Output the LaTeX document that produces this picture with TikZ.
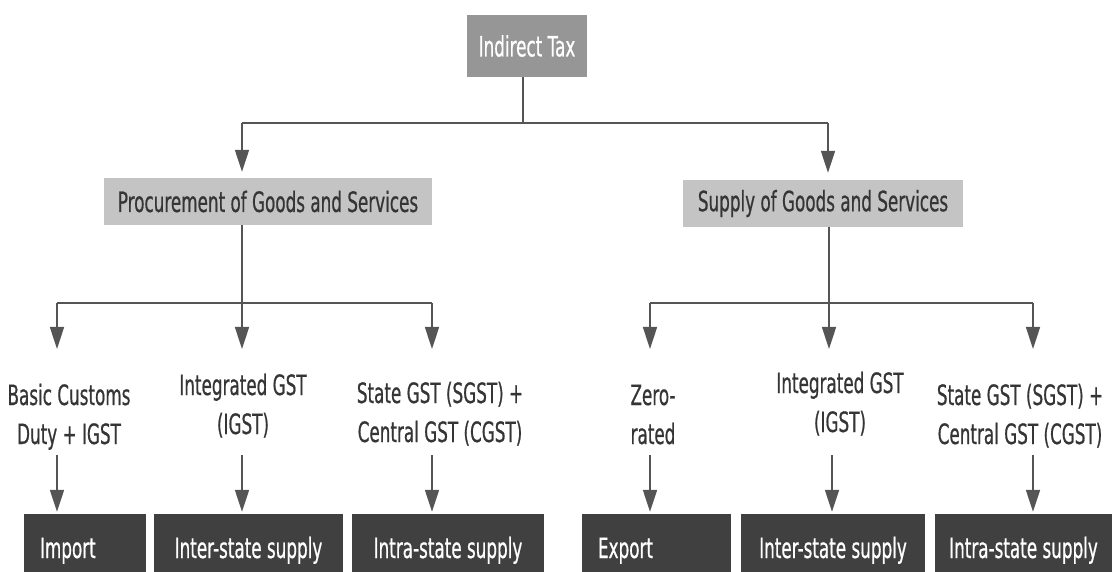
\documentclass[tikz,border=0pt]{standalone}
\usepackage{fontspec}
\setmainfont[FakeStretch=0.6,FakeBold=0.6]{DejaVu Sans}
\usetikzlibrary{arrows.meta}
\definecolor{topgray}{HTML}{969696}
\definecolor{midgray}{HTML}{C4C4C4}
\definecolor{darkbox}{HTML}{404040}
\definecolor{txt}{HTML}{353535}
\definecolor{linec}{HTML}{555555}
\tikzset{
  bigfont/.style={font=\fontsize{28}{39}\selectfont},
  topbox/.style={bigfont,fill=topgray,text=white,inner sep=0pt,draw=none},
  midbox/.style={bigfont,fill=midgray,text=txt,inner sep=0pt,draw=none},
  leafbox/.style={bigfont,fill=darkbox,text=white,inner sep=0pt,draw=none,
    text height=30pt,text depth=0pt,minimum height=58pt},
  lbl/.style={bigfont,text=txt,align=center,inner sep=0pt,anchor=base},
  conn/.style={draw=linec,line width=1.6pt},
  arr/.style={conn,-{Triangle[length=22pt,width=14pt]},fill=linec},
}
\begin{document}
\begin{tikzpicture}[x=1pt,y=-1pt]
\useasboundingbox (0,0) rectangle (1112,572);
% level 0
\node[topbox,minimum width=120pt,minimum height=62pt] (top) at (527,46) {Indirect Tax};
% level 1
\node[midbox,minimum width=328pt,minimum height=47pt] (proc) at (268,201.5) {Procurement of Goods and Services};
\node[midbox,minimum width=280pt,minimum height=47pt] (supp) at (823,203.5) {Supply of Goods and Services};
% connectors level 0 -> 1
\coordinate (tj) at (523,123);
\coordinate (pj) at (242,123);
\coordinate (sj) at (828,123);
\draw[conn] (top.south -| tj) -- (tj);
\draw[conn] (pj) -- (sj);
\draw[arr,shorten >=6pt] (pj) -- (pj |- proc.north);
\draw[arr,shorten >=7pt] (sj) -- (sj |- supp.north);
% level 2 junctions
\coordinate (lj) at (242,303);
\coordinate (l1) at (57,303);
\coordinate (l3) at (432,303);
\coordinate (rj) at (829,303);
\coordinate (r1) at (650,303);
\coordinate (r3) at (1033,303);
\draw[conn] (l1) -- (l3);
\draw[conn] (r1) -- (r3);
\draw[conn] (proc.south -| lj) -- (lj);
\draw[conn] (supp.south -| rj) -- (rj);
\foreach \c in {l1,lj,l3,r1,rj,r3}{
  \draw[arr] (\c) -- ++(0,46);
}
% labels (anchor = baseline of last line)
\node[lbl] (c1) at (69,444) {Basic Customs\\Duty + IGST};
\node[lbl] (c2) at (243,434) {Integrated GST\\(IGST)};
\node[lbl] (c3) at (440,442) {State GST (SGST) +\\Central GST (CGST)};
\node[lbl] (c4) at (653,444) {Zero-\\rated};
\node[lbl] (c5) at (840,432) {Integrated GST\\(IGST)};
\node[lbl] (c6) at (1020,444) {State GST (SGST) +\\Central GST (CGST)};
% leaf boxes
\node[leafbox,minimum width=122pt,align=left,text width=90pt] (imp) at (85,543) {Import};
\node[leafbox,minimum width=189pt] (inter1) at (248.5,543) {Inter-state supply};
\node[leafbox,minimum width=192pt] (intra1) at (448,543) {Intra-state supply};
\node[leafbox,minimum width=149pt,align=left,text width=117pt] (exp) at (656.5,543) {Export};
\node[leafbox,minimum width=184pt] (inter2) at (833,543) {Inter-state supply};
\node[leafbox,minimum width=177pt] (intra2) at (1023.5,543) {Intra-state supply};
% lower arrows
\coordinate (a1) at (57,455);
\coordinate (a2) at (242,455);
\coordinate (a3) at (432,455);
\coordinate (a4) at (650,455);
\coordinate (a5) at (832,455);
\coordinate (a6) at (1033,455);
\draw[arr,shorten >=2pt] (a1) -- (a1 |- imp.north);
\draw[arr,shorten >=2pt] (a2) -- (a2 |- inter1.north);
\draw[arr,shorten >=2pt] (a3) -- (a3 |- intra1.north);
\draw[arr,shorten >=2pt] (a4) -- (a4 |- exp.north);
\draw[arr,shorten >=2pt] (a5) -- (a5 |- inter2.north);
\draw[arr,shorten >=2pt] (a6) -- (a6 |- intra2.north);
\end{tikzpicture}
\end{document}
